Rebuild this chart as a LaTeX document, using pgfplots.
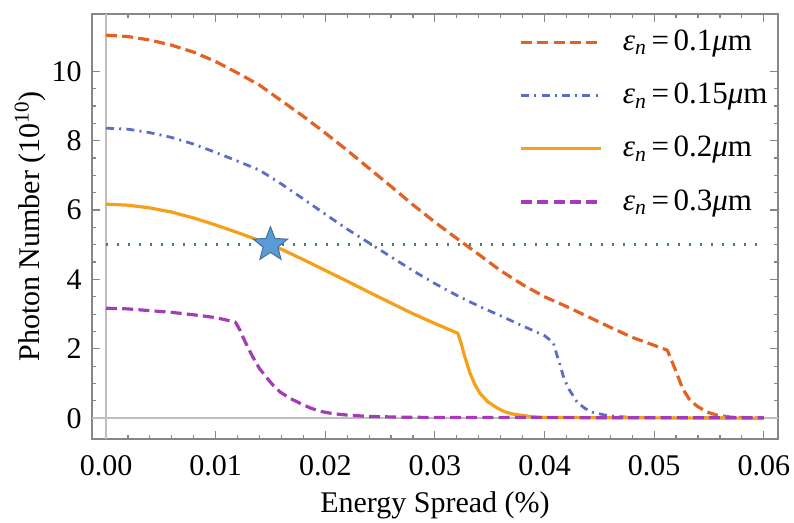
\documentclass[border=0pt]{standalone}
\usepackage{fontspec}
\setmainfont{Liberation Serif}
\usepackage{pgfplots}
\usepackage{pgfplotstable}
\pgfplotsset{compat=1.18}
\usetikzlibrary{calc}

\definecolor{cred}{RGB}{226,98,36}
\definecolor{cblue}{RGB}{92,108,200}
\definecolor{corange}{RGB}{245,160,24}
\definecolor{cpurple}{RGB}{164,60,184}
\definecolor{cgreen}{RGB}{55,140,100}
\definecolor{cframe}{RGB}{135,135,135}
\definecolor{cstar}{RGB}{91,155,213}
\definecolor{cstaredge}{RGB}{65,113,156}

\pgfdeclareplotmark{fstar}{%
  \pgfpathmoveto{\pgfpointpolar{90}{\pgfplotmarksize}}%
  \pgfpathlineto{\pgfpointpolar{126}{0.43\pgfplotmarksize}}%
  \pgfpathlineto{\pgfpointpolar{162}{\pgfplotmarksize}}%
  \pgfpathlineto{\pgfpointpolar{198}{0.43\pgfplotmarksize}}%
  \pgfpathlineto{\pgfpointpolar{234}{\pgfplotmarksize}}%
  \pgfpathlineto{\pgfpointpolar{270}{0.43\pgfplotmarksize}}%
  \pgfpathlineto{\pgfpointpolar{306}{\pgfplotmarksize}}%
  \pgfpathlineto{\pgfpointpolar{342}{0.43\pgfplotmarksize}}%
  \pgfpathlineto{\pgfpointpolar{18}{\pgfplotmarksize}}%
  \pgfpathlineto{\pgfpointpolar{54}{0.43\pgfplotmarksize}}%
  \pgfpathclose
  \pgfusepathqfillstroke}

\newcommand{\eps}[1]{\textit{ε}\textsubscript{\textit{n}}\hspace{0.15em}=\hspace{0.15em}#1\textit{μ}m}

\pgfplotstableread{
x y
0 11.04
0.002 11.0
0.004 10.9
0.006 10.75
0.008 10.55
0.010 10.28
0.012 9.95
0.014 9.6
0.016 9.15
0.018 8.7
0.020 8.22
0.022 7.72
0.024 7.2
0.026 6.68
0.028 6.15
0.030 5.65
0.032 5.18
0.034 4.72
0.036 4.25
0.038 3.85
0.040 3.5
0.042 3.22
0.044 2.92
0.046 2.62
0.048 2.33
0.050 2.1
0.0512 1.96
0.0517 1.58
0.0522 1.18
0.0526 0.85
0.0532 0.55
0.0539 0.35
0.0548 0.18
0.0557 0.09
0.057 0.03
0.060 0.0
}\tabA

\pgfplotstableread{
x y
0 8.36
0.002 8.33
0.004 8.23
0.006 8.09
0.008 7.9
0.010 7.66
0.012 7.41
0.014 7.15
0.016 6.75
0.018 6.32
0.020 5.88
0.022 5.45
0.024 5.05
0.026 4.65
0.028 4.25
0.030 3.88
0.032 3.54
0.034 3.23
0.036 2.95
0.038 2.66
0.040 2.38
0.0408 2.18
0.0411 1.85
0.0414 1.55
0.0418 1.12
0.0423 0.8
0.0430 0.45
0.0437 0.28
0.0444 0.17
0.0455 0.09
0.0466 0.05
0.048 0.02
0.060 0.0
}\tabB

\pgfplotstableread{
x y
0 6.17
0.002 6.14
0.004 6.06
0.006 5.94
0.008 5.77
0.010 5.57
0.012 5.35
0.014 5.12
0.016 4.87
0.018 4.57
0.020 4.26
0.022 3.95
0.024 3.63
0.026 3.32
0.028 3.01
0.030 2.73
0.032 2.46
0.0321 2.45
0.0324 2.15
0.0327 1.8
0.0332 1.3
0.0336 1.0
0.0341 0.72
0.0348 0.48
0.0357 0.29
0.0364 0.18
0.0371 0.12
0.0387 0.05
0.040 0.02
0.060 0.0
}\tabC

\pgfplotstableread{
x y
0 3.17
0.002 3.15
0.004 3.1
0.006 3.05
0.008 2.98
0.010 2.9
0.0118 2.77
0.0122 2.55
0.0125 2.33
0.0130 2.0
0.0134 1.76
0.0140 1.43
0.0147 1.15
0.0153 0.93
0.0159 0.75
0.0168 0.57
0.0177 0.43
0.0186 0.3
0.0195 0.2
0.0207 0.13
0.022 0.09
0.024 0.05
0.027 0.03
0.030 0.02
0.060 0.01
}\tabD

\begin{document}
\fontsize{15}{18}\selectfont
\begin{tikzpicture}
\begin{axis}[
  scale only axis, width=343pt, height=212.5pt,
  xmin=-0.00128, xmax=0.0613, ymin=-0.6, ymax=11.65,
  xtick={0,0.01,0.02,0.03,0.04,0.05,0.06},
  ytick={0,2,4,6,8,10},
  minor x tick num=4, minor y tick num=3,
  scaled x ticks=false,
  tick align=inside,
  major tick length=4pt, minor tick length=2.2pt,
  axis line style={cframe, line width=0.8pt},
  every tick/.style={cframe, line width=0.6pt},
  tick label style={black, font=\fontsize{15}{18}\selectfont},
  /pgf/number format/assume math mode=true,
  xticklabel style={yshift=-3pt, /pgf/number format/.cd, fixed, fixed zerofill, precision=2},
  xlabel={Energy Spread (\%)},
  ylabel={Photon Number (10\textsuperscript{10})},
  xlabel style={at={(axis description cs:0.5,-0.155)}, anchor=center, font=\fontsize{15}{18}\selectfont},
  ylabel style={at={(axis description cs:-0.0904,0.5)}, anchor=center, font=\fontsize{15}{18}\selectfont},
  legend style={draw=none, fill=none, at={(axis description cs:0.614,0.982)}, anchor=north west,
    font=\fontsize{15.5}{18}\selectfont, row sep=10pt,
    /tikz/every odd column/.append style={column sep=8pt}},
  legend cell align=left,
  legend image code/.code={\draw[#1] (0pt,0pt) -- (40pt,0pt);},
]
\draw[black!25, line width=1.1pt] (axis cs:0,-0.6) -- (axis cs:0,11.65);
\draw[black!25, line width=1pt] (axis cs:-0.00128,0) -- (axis cs:0.0613,0);

\addplot[cred, line width=1.6pt, dash pattern=on 5.5pt off 2.6pt, line join=round] table {\tabA};
\addlegendentry{\eps{0.1}}
\addplot[cblue, line width=1.4pt, dash pattern=on 4pt off 2.6pt on 1pt off 2.6pt, line join=round] table {\tabB};
\addlegendentry{\eps{0.15}}
\addplot[corange, line width=1.6pt, line join=round] table {\tabC};
\addlegendentry{\eps{0.2}}
\addplot[cpurple, line width=1.6pt, dash pattern=on 5.5pt off 2.6pt, line join=round] table {\tabD};
\addlegendentry{\eps{0.3}}

\addplot[cgreen, line width=1.5pt, dash pattern=on 1.1pt off 4.4pt, forget plot] coordinates {(0,5) (0.06,5)};
\addplot[only marks, mark=fstar, mark size=9pt, mark options={fill=cstar, draw=cstaredge, line width=0.5pt}, forget plot] coordinates {(0.015,5)};

\coordinate (fsw) at (rel axis cs:0,0);
\coordinate (fne) at (rel axis cs:1,1);
\end{axis}
\pgfresetboundingbox
\path ($(fsw)+(-46pt,-41.5pt)$) rectangle ($(fne)+(8pt,7pt)$);
\end{tikzpicture}
\end{document}
